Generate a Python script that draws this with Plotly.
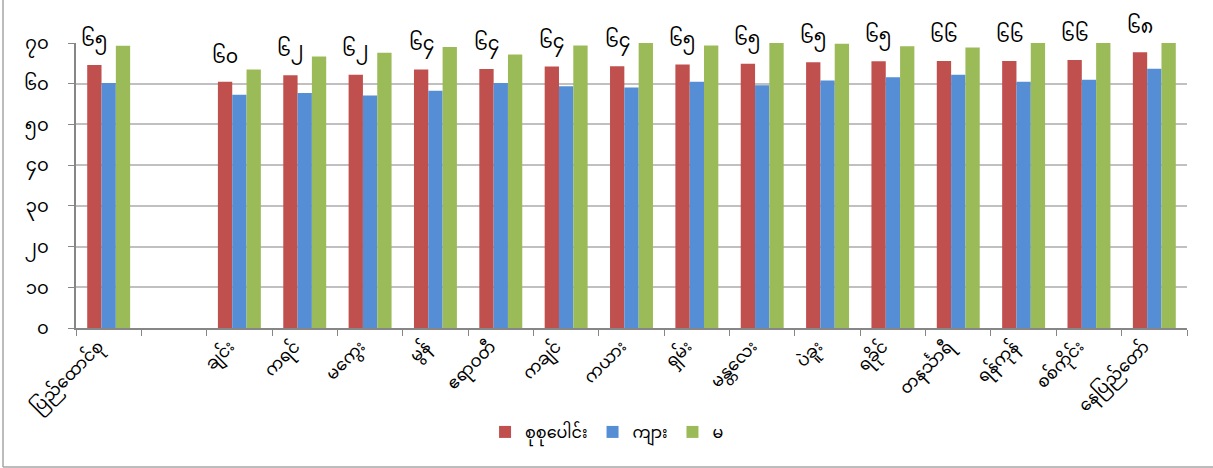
import plotly.graph_objects as go

categories = ["ပြည်ထောင်စု", " ", "ချင်း", "ကရင်", "မကွေး", "မွန်", "ဧရာဝတီ", "ကချင်",
              "ကယား", "ရှမ်း", "မန္တလေး", "ပဲခူး", "ရခိုင်", "တနင်္သာရီ", "ရန်ကုန်",
              "စစ်ကိုင်း", "နေပြည်တော်"]
total = [64.6, None, 60.5, 62.1, 62.2, 63.5, 63.6, 64.2, 64.3, 64.7, 64.9, 65.3, 65.5, 65.6, 65.6, 65.8, 67.7]
male = [60.2, None, 57.3, 57.7, 57.1, 58.3, 60.2, 59.4, 59.1, 60.5, 59.6, 60.8, 61.6, 62.2, 60.5, 61.0, 63.7]
female = [69.3, None, 63.5, 66.7, 67.6, 69.0, 67.2, 69.4, 70.5, 69.4, 70.5, 69.8, 69.2, 68.9, 70.5, 71.0, 72.0]
labels = ["၆၅", "", "၆၀", "၆၂", "၆၂", "၆၄", "၆၄", "၆၄", "၆၄", "၆၅", "၆၅", "၆၅", "၆၅", "၆၆", "၆၆", "၆၆", "၆၈"]
series_names = ["စုစုပေါင်း", "ကျား", "မ"]
y_ticks = [0, 10, 20, 30, 40, 50, 60, 70]
y_tick_text = ["၀", "၁၀", "၂၀", "၃၀", "၄၀", "၅၀", "၆၀", "၇၀"]

colors = ["#C0504D", "#558ED5", "#9BBB59"]
FONT = "Noto Sans Myanmar, Myanmar Text, Padauk, Myanmar3, Noto Sans, DejaVu Sans"

fig = go.Figure()
for name, vals, col in zip(series_names, [total, male, female], colors):
    fig.add_trace(go.Bar(x=categories, y=vals, name=name, marker_color=col,
                         marker_line_width=0))

for c, v, t in zip(categories, total, labels):
    if t and v is not None:
        fig.add_annotation(x=c, y=v, text=t, showarrow=False, xref="x", yref="y",
                           xshift=-14.3, yshift=1, yanchor="bottom",
                           font=dict(size=19, color="#000000", family=FONT))

fig.update_layout(
    width=1213, height=468,
    margin=dict(l=76, r=26, t=43, b=140, autoexpand=False),
    paper_bgcolor="white", plot_bgcolor="white",
    barmode="group", bargap=0.343, bargroupgap=0,
    font=dict(family=FONT, color="#000000"),
    showlegend=True,
    legend=dict(orientation="h", x=0.478, xanchor="center", y=-0.365, yanchor="middle",
                font=dict(size=16, family=FONT), traceorder="normal",
                itemwidth=30, tracegroupgap=0),
    xaxis=dict(type="category", tickangle=-45, tickson="boundaries", ticks="outside",
               ticklen=6, tickcolor="#868686", showline=True, linecolor="#868686",
               linewidth=1.5, showgrid=False, tickfont=dict(size=17, family=FONT),
               automargin=False, ticklabelshift=-10),
    yaxis=dict(range=[0, 70], tickvals=y_ticks, ticktext=y_tick_text, ticks="outside",
               ticklen=6, tickcolor="#868686", showline=True, linecolor="#868686",
               linewidth=1.5, showgrid=True, gridcolor="#C0C0C0", gridwidth=1.5,
               tickfont=dict(size=18, family=FONT), zeroline=False, automargin=False,
               ticklabelstandoff=16),
)
fig.add_shape(type="line", xref="paper", yref="paper", x0=-0.0657, x1=-0.0657, y0=-0.488, y1=1.2,
              line=dict(color="#A6A6A6", width=1.5))
fig.add_shape(type="line", xref="paper", yref="paper", x0=-0.0657, x1=1.03, y0=-0.488, y1=-0.488,
              line=dict(color="#A6A6A6", width=1.5))
fig.write_html("out.html", config={"displayModeBar": False},
               post_script="document.body.style.margin='0';document.body.style.padding='0';")
